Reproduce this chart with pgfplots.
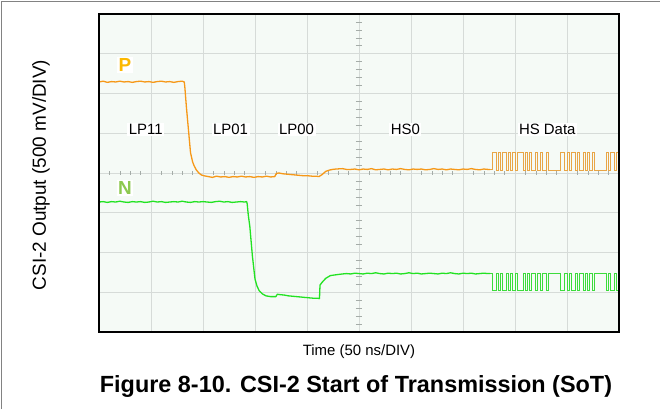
\documentclass[border=0pt]{standalone}
\usepackage{fontspec}
\setmainfont{Liberation Sans}
\usepackage{pgfplots}
\usepackage{pgfplotstable}
\pgfplotsset{compat=1.18}

\definecolor{scopebg}{RGB}{245,250,246}
\definecolor{gridgray}{RGB}{214,219,216}
\definecolor{tickgray}{RGB}{165,172,168}
\definecolor{traceP}{RGB}{246,152,24}
\definecolor{traceN}{RGB}{34,226,34}
\definecolor{hsP}{RGB}{232,165,70}
\definecolor{hsN}{RGB}{60,220,60}
\definecolor{labelP}{RGB}{252,184,0}
\definecolor{labelN}{RGB}{140,200,78}
\definecolor{pagegray}{RGB}{130,130,130}

% Time in divisions (50 ns/div), level in divisions (500 mV/div)
% Channel P, low-power states and HS0
\pgfplotstableread{
t v
0.00 6.29
0.08 6.31
0.16 6.28
0.24 6.30
0.32 6.29
0.40 6.31
0.48 6.29
0.56 6.30
0.64 6.28
0.72 6.30
0.80 6.31
0.88 6.29
0.96 6.30
1.04 6.28
1.12 6.30
1.20 6.31
1.28 6.29
1.36 6.30
1.44 6.28
1.52 6.30
1.60 6.31
1.64 6.29
1.65 6.17
1.68 5.67
1.72 5.09
1.76 4.51
1.80 4.28
1.83 4.18
1.87 4.08
1.92 4.00
1.97 3.95
2.02 3.93
2.10 3.91
2.18 3.89
2.26 3.92
2.34 3.90
2.42 3.91
2.50 3.89
2.58 3.91
2.66 3.90
2.74 3.92
2.82 3.90
2.90 3.91
2.98 3.89
3.06 3.91
3.14 3.90
3.22 3.92
3.30 3.90
3.38 3.91
3.41 3.99
3.46 4.00
3.54 3.98
3.62 3.97
3.70 3.96
3.78 3.95
3.86 3.94
3.94 3.93
4.02 3.93
4.10 3.92
4.18 3.92
4.23 3.91
4.29 3.96
4.36 4.04
4.42 4.07
4.49 4.09
4.56 4.10
4.68 4.11
4.76 4.09
4.84 4.09
4.92 4.10
5.00 4.08
5.08 4.10
5.16 4.09
5.24 4.11
5.32 4.08
5.40 4.09
5.48 4.10
5.56 4.08
5.64 4.10
5.72 4.09
5.80 4.11
5.88 4.09
5.96 4.08
6.04 4.10
6.12 4.09
6.20 4.10
6.28 4.08
6.36 4.09
6.44 4.11
6.52 4.09
6.60 4.10
6.68 4.08
6.76 4.10
6.84 4.09
6.92 4.08
7.00 4.10
7.08 4.09
7.16 4.11
7.24 4.09
7.32 4.08
7.40 4.10
7.48 4.09
7.52 4.09
}\chP

% Channel N, low-power states and HS0
\pgfplotstableread{
t v
0.00 3.27
0.08 3.28
0.16 3.26
0.24 3.28
0.32 3.27
0.40 3.29
0.48 3.27
0.56 3.26
0.64 3.28
0.72 3.27
0.80 3.28
0.88 3.26
0.96 3.27
1.04 3.29
1.12 3.27
1.20 3.28
1.28 3.26
1.36 3.27
1.44 3.28
1.52 3.27
1.60 3.29
1.68 3.27
1.76 3.26
1.84 3.28
1.92 3.27
2.00 3.28
2.08 3.27
2.16 3.26
2.24 3.28
2.32 3.29
2.40 3.27
2.48 3.28
2.56 3.26
2.64 3.27
2.72 3.28
2.80 3.27
2.84 3.28
2.85 3.22
2.87 2.95
2.90 2.66
2.95 1.91
3.00 1.33
3.04 1.15
3.08 1.04
3.14 0.96
3.21 0.91
3.30 0.89
3.40 0.89
3.43 0.95
3.48 0.94
3.56 0.93
3.64 0.91
3.72 0.90
3.80 0.89
3.88 0.88
3.96 0.87
4.04 0.86
4.12 0.85
4.20 0.85
4.24 0.84
4.25 1.18
4.29 1.25
4.36 1.35
4.45 1.42
4.56 1.44
4.68 1.46
4.76 1.47
4.84 1.46
4.92 1.48
5.00 1.47
5.08 1.46
5.16 1.48
5.24 1.47
5.32 1.49
5.40 1.47
5.48 1.46
5.56 1.48
5.64 1.47
5.72 1.48
5.80 1.46
5.88 1.47
5.96 1.49
6.04 1.47
6.12 1.48
6.20 1.46
6.28 1.47
6.36 1.48
6.44 1.47
6.52 1.46
6.60 1.48
6.68 1.47
6.76 1.49
6.84 1.47
6.92 1.46
7.00 1.48
7.08 1.47
7.16 1.48
7.24 1.46
7.32 1.47
7.40 1.48
7.48 1.47
7.52 1.47
}\chN

% HS data burst, both lines (P high = N low), level held until next row
\pgfplotstableread{
t p n
7.52 4.09 1.47
7.56 4.51 1.04
7.64 4.07 1.47
7.68 4.51 1.04
7.72 4.07 1.47
7.76 4.51 1.04
7.84 4.07 1.47
7.88 4.51 1.04
7.92 4.07 1.47
7.96 4.51 1.04
8.00 4.07 1.47
8.04 4.51 1.04
8.16 4.07 1.47
8.20 4.51 1.04
8.24 4.07 1.47
8.28 4.51 1.04
8.32 4.07 1.47
8.40 4.51 1.04
8.44 4.07 1.47
8.48 4.51 1.04
8.52 4.07 1.47
8.60 4.51 1.04
8.64 4.07 1.47
8.88 4.51 1.04
8.96 4.07 1.47
9.00 4.51 1.04
9.04 4.07 1.47
9.08 4.51 1.04
9.16 4.07 1.47
9.20 4.51 1.04
9.24 4.07 1.47
9.32 4.51 1.04
9.36 4.07 1.47
9.40 4.51 1.04
9.44 4.07 1.47
9.48 4.51 1.04
9.52 4.07 1.47
9.76 4.51 1.04
9.80 4.07 1.47
9.84 4.51 1.04
9.92 4.07 1.47
9.96 4.51 1.04
10.00 4.51 1.04
}\hsdata

\begin{document}
\begin{tikzpicture}[x=1bp,y=1bp]
\path[use as bounding box] (0,0) rectangle (660,409);
\draw[pagegray, line width=1.6bp] (1.5,0) -- (1.5,407.5) -- (660,407.5);

\begin{axis}[
  at={(99bp,77bp)}, anchor=south west,
  scale only axis, width=520bp, height=318bp,
  xmin=0, xmax=10, ymin=0, ymax=8,
  xtick={0,1,...,10}, ytick={0,1,...,8},
  xticklabels={}, yticklabels={},
  major tick length=0pt,
  grid=major,
  major grid style={gridgray, line width=0.7bp},
  axis background/.style={fill=scopebg},
  axis line style={draw=none},
]
% graticule sub-division marks on the centre lines
\pgfplotsinvokeforeach{0.2,0.4,0.6,0.8,1.2,1.4,1.6,1.8,2.2,2.4,2.6,2.8,3.2,3.4,3.6,3.8,4.2,4.4,4.6,4.8,5.2,5.4,5.6,5.8,6.2,6.4,6.6,6.8,7.2,7.4,7.6,7.8,8.2,8.4,8.6,8.8,9.2,9.4,9.6,9.8}{
  \draw[tickgray, line width=0.6bp] (axis cs:#1,3.95) -- (axis cs:#1,4.05);
}
\pgfplotsinvokeforeach{0.2,0.4,0.6,0.8,1.2,1.4,1.6,1.8,2.2,2.4,2.6,2.8,3.2,3.4,3.6,3.8,4.2,4.4,4.6,4.8,5.2,5.4,5.6,5.8,6.2,6.4,6.6,6.8,7.2,7.4,7.6,7.8}{
  \draw[tickgray, line width=0.6bp] (axis cs:4.94,#1) -- (axis cs:5.06,#1);
}

\addplot[traceP, line width=1.3bp, line join=round] table[x=t, y=v] {\chP};
\addplot[traceN, line width=1.3bp, line join=round] table[x=t, y=v] {\chN};
\addplot[hsP, line width=0.9bp, const plot] table[x=t, y=p] {\hsdata};
\addplot[hsN, line width=0.9bp, const plot] table[x=t, y=n] {\hsdata};

% state annotations
\begin{scope}[every node/.style={fill=white, inner sep=1.5bp, font=\fontsize{15}{17}\selectfont}]
\node at (axis cs:0.90,5.09) {LP11};
\node at (axis cs:2.53,5.09) {LP01};
\node at (axis cs:3.80,5.09) {LP00};
\node at (axis cs:5.89,5.09) {HS0};
\node at (axis cs:8.62,5.09) {HS Data};
\end{scope}
\node[fill=white, inner sep=1.5bp, text=labelP, font=\bfseries\fontsize{19}{21}\selectfont] at (axis cs:0.50,6.72) {P};
\node[fill=white, inner sep=1.5bp, text=labelN, font=\bfseries\fontsize{19}{21}\selectfont] at (axis cs:0.50,3.63) {N};
\end{axis}

% scope frame
\draw[black, line width=2.8bp] (99,77) rectangle (619,395);

\node[rotate=90, font=\fontsize{19}{22}\selectfont] at (41,234) {CSI-2 Output (500 mV/DIV)};
\node[font=\fontsize{15}{18}\selectfont] at (359,57) {Time (50 ns/DIV)};
\node[font=\bfseries\fontsize{23.5}{27}\selectfont] at (356,23) {Figure 8-10. CSI-2 Start of Transmission (SoT)};
\end{tikzpicture}
\end{document}
